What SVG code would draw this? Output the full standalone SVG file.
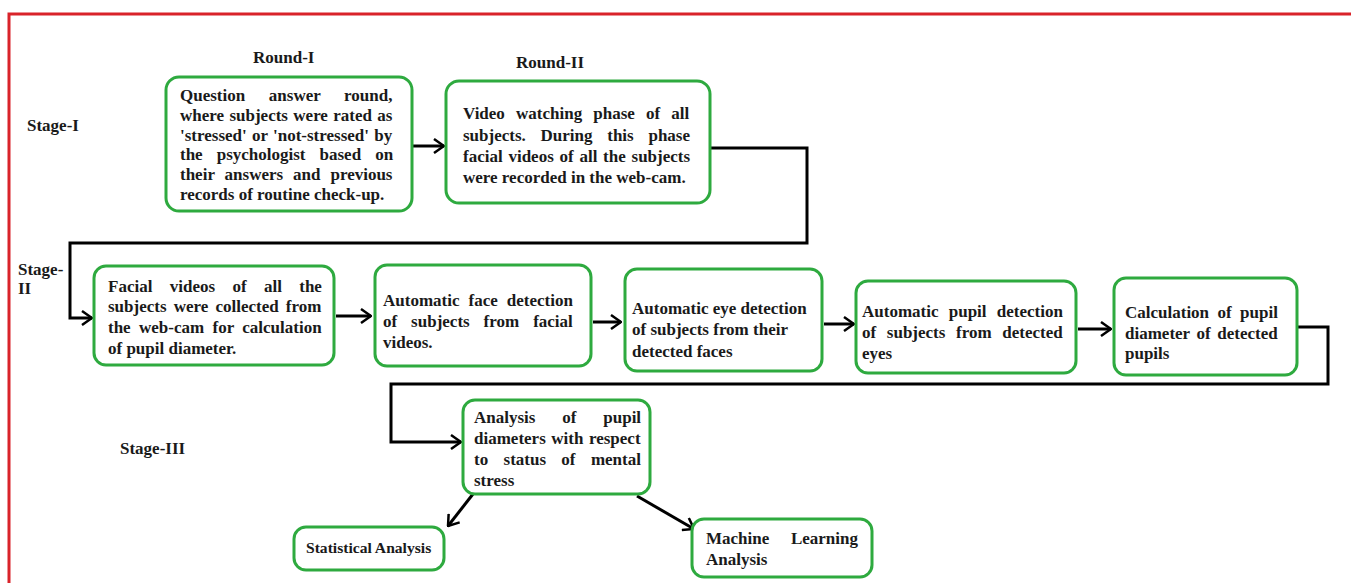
<svg xmlns="http://www.w3.org/2000/svg" width="1351" height="583" viewBox="0 0 1351 583">
<style>
.box{fill:#fff;stroke:#2eaa3f;stroke-width:3}
.t{font-family:"Liberation Serif","Times New Roman",serif;font-weight:bold;font-size:17px;fill:#1a1a1a}
.c{fill:none;stroke:#000;stroke-width:3}
</style>
<defs>
<marker id="ah" viewBox="0 0 12 16" refX="11" refY="8" markerWidth="12" markerHeight="16" markerUnits="userSpaceOnUse" orient="auto">
<path d="M1,1 L11,8 L1,15" fill="none" stroke="#000" stroke-width="2.5"/>
</marker>
</defs>
<rect x="0" y="0" width="1351" height="583" fill="#fff"/>
<path d="M9,583 V14 H1351" fill="none" stroke="#d9232a" stroke-width="3"/>
<g id="labels">
<text class="t" x="253" y="63">Round-I</text>
<text class="t" x="516" y="68">Round-II</text>
<text class="t" x="27" y="131">Stage-I</text>
<text class="t" x="18" y="275">Stage-</text>
<text class="t" x="18" y="294">II</text>
<text class="t" x="120" y="454">Stage-III</text>
</g>
<g id="connectors">
<path class="c" d="M412,146 H444" marker-end="url(#ah)"/>
<path class="c" d="M710,148 H807 V243 H70 V318 H92" marker-end="url(#ah)"/>
<path class="c" d="M336,316 H371" marker-end="url(#ah)"/>
<path class="c" d="M593,322 H621" marker-end="url(#ah)"/>
<path class="c" d="M824,324 H854" marker-end="url(#ah)"/>
<path class="c" d="M1078,329 H1111" marker-end="url(#ah)"/>
<path class="c" d="M1297,327 H1328 V384 H391 V442 H461" marker-end="url(#ah)"/>
<path class="c" d="M473,494 L448,526" marker-end="url(#ah)"/>
<path class="c" d="M637,496 L694,529" marker-end="url(#ah)"/>
</g>
<g id="n1">
<rect class="box" x="166" y="77" width="246" height="134" rx="13"/>
<text class="t" x="180" y="101" style="word-spacing:19.4px">Question answer round,</text>
<text class="t" x="180" y="121" style="word-spacing:1.1px">where subjects were rated as</text>
<text class="t" x="180" y="141" style="word-spacing:1px">'stressed' or 'not-stressed' by</text>
<text class="t" x="180" y="160" style="word-spacing:9.8px">the psychologist based on</text>
<text class="t" x="180" y="180" style="word-spacing:5.7px">their answers and previous</text>
<text class="t" x="180" y="200">records of routine check-up.</text>
</g>
<g id="n2">
<rect class="box" x="446" y="81" width="264" height="122" rx="13"/>
<text class="t" x="463" y="119" style="word-spacing:6.9px">Video watching phase of all</text>
<text class="t" x="463" y="141" style="word-spacing:10.5px">subjects. During this phase</text>
<text class="t" x="463" y="162" style="word-spacing:1.5px">facial videos of all the subjects</text>
<text class="t" x="463" y="183">were recorded in the web-cam.</text>
</g>
<g id="n3">
<rect class="box" x="94" y="266" width="240" height="99" rx="12"/>
<text class="t" x="108" y="292" style="word-spacing:13.1px">Facial videos of all the</text>
<text class="t" x="108" y="312" style="word-spacing:2.9px">subjects were collected from</text>
<text class="t" x="108" y="333" style="word-spacing:4.1px">the web-cam for calculation</text>
<text class="t" x="108" y="354">of pupil diameter.</text>
</g>
<g id="n4">
<rect class="box" x="375" y="265" width="216" height="101" rx="12"/>
<text class="t" x="383" y="306" style="word-spacing:4.8px">Automatic face detection</text>
<text class="t" x="383" y="327" style="word-spacing:9.7px">of subjects from facial</text>
<text class="t" x="383" y="348">videos.</text>
</g>
<g id="n5">
<rect class="box" x="625" y="269" width="197" height="102" rx="12"/>
<text class="t" x="632" y="314">Automatic eye detection</text>
<text class="t" x="632" y="335">of subjects from their</text>
<text class="t" x="632" y="357">detected faces</text>
</g>
<g id="n6">
<rect class="box" x="856" y="281" width="220" height="92" rx="12"/>
<text class="t" x="862" y="317" style="word-spacing:6px">Automatic pupil detection</text>
<text class="t" x="862" y="338" style="word-spacing:6.4px">of subjects from detected</text>
<text class="t" x="862" y="359">eyes</text>
</g>
<g id="n7">
<rect class="box" x="1114" y="278" width="183" height="97" rx="12"/>
<text class="t" x="1125" y="318" style="word-spacing:4.2px">Calculation of pupil</text>
<text class="t" x="1125" y="339" style="word-spacing:2.4px">diameter of detected</text>
<text class="t" x="1125" y="359">pupils</text>
</g>
<g id="n8">
<rect class="box" x="463" y="400" width="187" height="94" rx="12"/>
<text class="t" x="474" y="423" style="word-spacing:22.6px">Analysis of pupil</text>
<text class="t" x="474" y="444" style="word-spacing:1.3px">diameters with respect</text>
<text class="t" x="474" y="465" style="word-spacing:11.1px">to status of mental</text>
<text class="t" x="474" y="486">stress</text>
</g>
<g id="n9">
<rect class="box" x="294" y="527" width="150" height="43" rx="12"/>
<text class="t" x="306" y="553" style="font-size:15.6px">Statistical Analysis</text>
</g>
<g id="n10">
<rect class="box" x="692" y="519" width="180" height="58" rx="12"/>
<text class="t" x="706" y="544" style="word-spacing:17.4px">Machine Learning</text>
<text class="t" x="706" y="565">Analysis</text>
</g>
</svg>
